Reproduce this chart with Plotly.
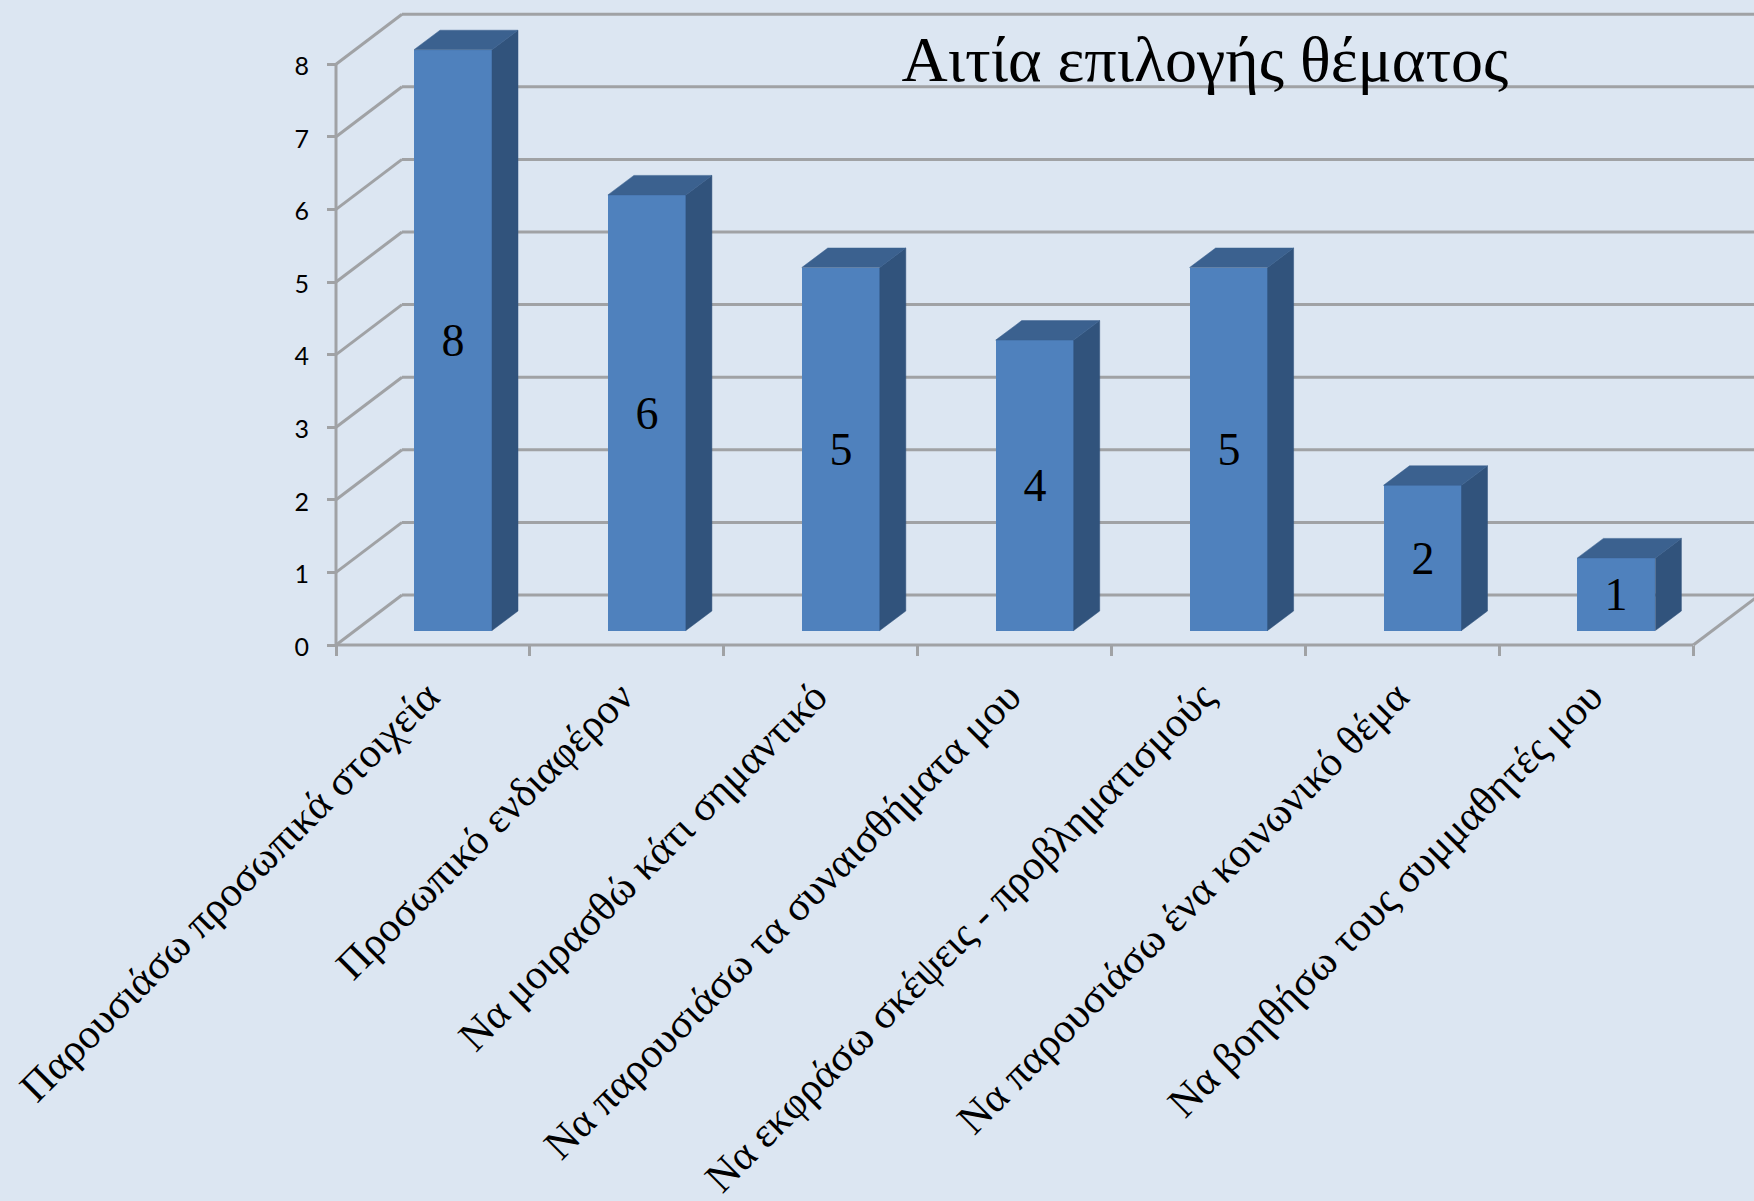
import plotly.graph_objects as go

categories = ["Παρουσιάσω προσωπικά στοιχεία", "Προσωπικό ενδιαφέρον", "Να μοιρασθώ κάτι σημαντικό",
              "Να παρουσιάσω τα συναισθήματα μου", "Να εκφράσω σκέψεις - προβληματισμούς",
              "Να παρουσιάσω ένα κοινωνικό θέμα", "Να βοηθήσω τους συμμαθητές μου"]
values = [8, 6, 5, 4, 5, 2, 1]
y_ticks = [0, 1, 2, 3, 4, 5, 6, 7, 8]
title_text = "Αιτία επιλογής θέματος"

W, H = 1754, 1201
X0, XU = 336.0, 193.9
Y0, YU = 645.0, 72.6
xrange_ = [-X0 / XU, (W - X0) / XU]
yrange_ = [(Y0 - H) / YU, Y0 / YU]

WALL_DX, WALL_DY = 66 / XU, 50 / YU
BAR_DX, BAR_DY = 26 / XU, 19.5 / YU
BAR_BASE = 14.5 / YU
BAR_LEFT = 78 / XU
BAR_W = 78 / XU
n = len(categories)
GRID = "#a0a2a5"
AXIS = "#a0a2a5"
SERIF = "Liberation Serif"

shapes = []
def line(x0, y0, x1, y1, c=GRID, w=3):
    shapes.append(dict(type="line", xref="x", yref="y", x0=x0, y0=y0, x1=x1, y1=y1,
                       line=dict(color=c, width=w), layer="below"))

for t in y_ticks:
    line(WALL_DX, t + WALL_DY, n + WALL_DX, t + WALL_DY)
    line(0, t, WALL_DX, t + WALL_DY)
line(0, 0, 0, max(y_ticks), AXIS)
line(0, 0, n, 0, AXIS)
line(n, 0, n + WALL_DX, WALL_DY)

lefts = [i + BAR_LEFT for i in range(n)]
rights = [l + BAR_W for l in lefts]

side_x, side_y, top_x, top_y = [], [], [], []
for l, r, v in zip(lefts, rights, values):
    t = BAR_BASE + v
    side_x += [r, r + BAR_DX, r + BAR_DX, r, r, None]
    side_y += [BAR_BASE, BAR_BASE + BAR_DY, t + BAR_DY, t, BAR_BASE, None]
    top_x += [l, l + BAR_DX, r + BAR_DX, r, l, None]
    top_y += [t, t + BAR_DY, t + BAR_DY, t, t, None]

fig = go.Figure()
fig.add_trace(go.Bar(x=[l + BAR_W / 2 for l in lefts], y=values, base=BAR_BASE, width=BAR_W,
                     marker=dict(color="#4f81bd", line=dict(width=0)),
                     text=[str(v) for v in values], textposition="inside", insidetextanchor="middle",
                     textangle=0, constraintext="none",
                     insidetextfont=dict(family=SERIF, size=46, color="black"), hoverinfo="skip"))
fig.add_trace(go.Scatter(x=side_x, y=side_y, mode="lines", fill="toself", fillcolor="#31537c",
                         line=dict(width=0.5, color="#31537c"), hoverinfo="skip"))
fig.add_trace(go.Scatter(x=top_x, y=top_y, mode="lines", fill="toself", fillcolor="#3b618f",
                         line=dict(width=0.5, color="#3b618f"), hoverinfo="skip"))
fig.add_trace(go.Scatter(x=[i + 0.5 for i in range(n)], y=values, mode="markers", opacity=0,
                         xaxis="x2", yaxis="y", hoverinfo="skip"))

axis_pos = (H - Y0) / H
fig.update_layout(
    width=W, height=H, margin=dict(l=0, r=0, t=0, b=0), showlegend=False, bargap=0,
    paper_bgcolor="#dce6f2", plot_bgcolor="#dce6f2", shapes=shapes,
    title=dict(text=title_text, font=dict(family=SERIF, size=64, color="black"),
               x=1205 / W, xanchor="center", y=1 - 59 / H, yanchor="middle"),
    xaxis=dict(domain=[0, 1], range=xrange_, anchor="free", position=axis_pos, automargin=False,
               tickmode="array", tickvals=list(range(n + 1)), ticktext=[""] * (n + 1),
               ticks="outside", ticklen=10, tickwidth=2.5, tickcolor=AXIS,
               showgrid=False, zeroline=False, showline=False),
    xaxis2=dict(domain=[0, 1], range=xrange_, anchor="free", position=axis_pos, overlaying="x", automargin=False,
                side="bottom", tickmode="array", tickvals=[i + 0.5 for i in range(n)], ticktext=categories,
                tickangle=-45, ticks="outside", ticklen=9, tickcolor="rgba(0,0,0,0)",
                ticklabelshift=-6,
                tickfont=dict(family=SERIF, size=42, color="black"),
                showgrid=False, zeroline=False, showline=False),
    yaxis=dict(domain=[0, 1], range=yrange_, anchor="free", position=X0 / W, automargin=False,
               tickmode="array", tickvals=y_ticks, ticks="outside", ticklen=9, tickwidth=2.5, tickcolor=AXIS,
               ticklabelstandoff=13, ticklabelshift=2,
               tickfont=dict(family="Lato", size=25, color="black"),
               showgrid=False, zeroline=False, showline=False),
)
fig.write_html("out.html", config={"displayModeBar": False},
               post_script="document.body.style.margin='0';document.body.style.overflow='hidden';")
